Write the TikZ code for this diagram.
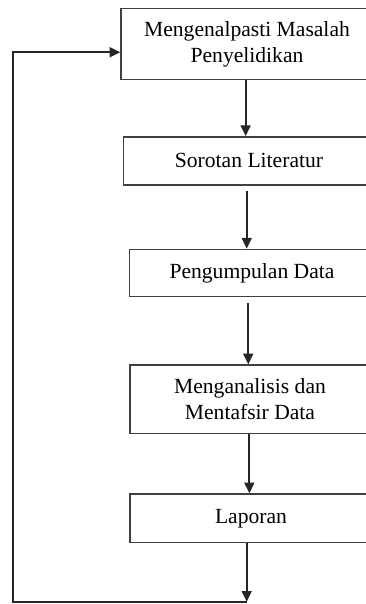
\documentclass[tikz,border=0pt]{standalone}
\usepackage{fontspec}
\setmainfont{Liberation Serif}
\usetikzlibrary{arrows.meta}

\begin{document}
\begin{tikzpicture}[
      x=0.75pt, y=-0.75pt,
      tahap/.style={
        rectangle, draw=black!75, line width=1.1pt,
        inner sep=0pt, align=center,
        font=\fontsize{16.2}{19.5}\selectfont
      },
      arr/.style={
        -{Triangle[length=8pt, width=7.5pt]}, line width=1.3pt, draw=black!85
      }
    ]
    \useasboundingbox (0,0) rectangle (365,604);

    % --- Stage boxes ---
    \node[tahap, minimum width=189pt, minimum height=53.2pt] (masalah)     at (247,44)    {Mengenalpasti Masalah\\Penyelidikan};
    \node[tahap, minimum width=188pt, minimum height=36.2pt] (sorotan)     at (249,160.9) {Sorotan Literatur};
    \node[tahap, minimum width=184pt, minimum height=35.5pt] (pengumpulan) at (252,273)   {Pengumpulan Data};
    \node[tahap, minimum width=180pt, minimum height=51.2pt] (analisis)    at (250,399.2) {Menganalisis dan\\Mentafsir Data};
    \node[tahap, minimum width=181.5pt, minimum height=36.5pt] (laporan)   at (251,518.3) {Laporan};

    % --- Corners of the return loop ---
    \coordinate (akhir) at (246.7,601.7);
    \coordinate (sudut) at (13.3,601.7);

    % --- Arrows ---
    \draw[arr] ([xshift=-1pt]masalah.south) -- ([xshift=-1pt]masalah.south |- sorotan.north);
    \draw[arr] ([xshift=-1.7pt,yshift=-3.7pt]sorotan.south) -- ([xshift=-1.7pt]sorotan.south |- pengumpulan.north);
    \draw[arr] ([xshift=-2.8pt,yshift=-4.5pt]pengumpulan.south) -- ([xshift=-2.8pt]pengumpulan.south |- analisis.north);
    \draw[arr] ([xshift=-0.5pt]analisis.south) -- ([xshift=-0.5pt]analisis.south |- laporan.north);
    \draw[arr] (laporan.south -| akhir) -- (akhir);

    % --- Return to the start ---
    \draw[arr] (akhir) -- (sudut) |- ([yshift=-6.2pt]masalah.west);

  \end{tikzpicture}
\end{document}
